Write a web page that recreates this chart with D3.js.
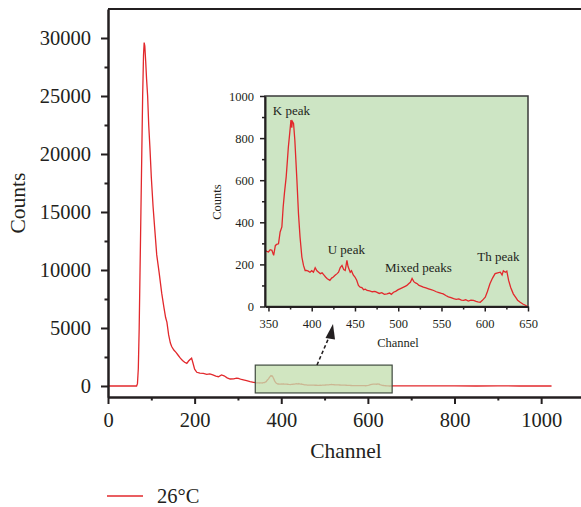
<!DOCTYPE html>
<html>
<head>
<meta charset="utf-8">
<title>Counts vs Channel, 26°C</title>
<style>
  body { margin: 0; background: #fff; }
  svg { display: block; font-family: "Liberation Serif", "DejaVu Serif", serif; }
  .axis text { fill: #231f20; font-family: "Liberation Serif", "DejaVu Serif", serif; }
  .axis path, .axis line { stroke: #231f20; }
</style>
</head>
<body>
<svg width="581" height="507"></svg>
<script src="https://d3js.org/d3.v7.min.js"></script>
<script>

// ---- data ----
// low channels (before the zoomed window)
var lowChannels = [0, 60, 66, 68, 70, 72, 74, 76, 78, 80, 82, 83.5, 85, 87, 89, 91.5, 94, 97, 100, 104,
  108, 112.5, 118, 124, 129, 133, 136, 140, 144, 147, 152, 157, 162, 167, 172, 177, 182, 186, 190, 193,
  196, 200, 205, 212, 220, 228, 235, 242, 249, 255, 262, 268, 275, 282, 290, 297, 301, 308, 315, 320,
  328, 336, 342];
var lowCounts = [0, 0, 0, 200, 1500, 5000, 10000, 15000, 20000, 25000, 28500, 29600, 29300, 28000, 26500, 25000, 22500, 20400, 18000, 15500,
  13500, 11300, 9800, 8000, 6800, 5900, 5500, 4400, 3700, 3400, 3100, 2900, 2650, 2400, 2200, 2050, 1950, 2150, 2300, 2400,
  2000, 1450, 1180, 1100, 1080, 1000, 1040, 950, 850, 800, 950, 880, 700, 600, 620, 680, 660, 560, 500, 460,
  380, 320, 280];

// zoomed window (K, U, mixed and Th peaks)
var peakChannels = [346, 348, 350, 352, 354, 356, 358, 360, 361.6, 363.5, 365.5, 367, 368.5, 370.5, 372, 373, 374.5, 376, 377, 377.6,
  379, 380.5, 381.7, 383, 384.7, 386.5, 388.6, 390.5, 392.4, 394, 396, 398, 400, 402, 404, 406, 408, 410, 412, 414,
  416, 418, 421, 423, 425, 427, 429, 431, 433, 435, 437, 438.7, 440.7, 442, 444.5, 446, 448, 450, 452, 454,
  456, 458, 460, 462, 464, 467, 470, 473, 475, 478, 481, 484, 487, 490, 492, 494.6, 497, 500, 502, 505,
  508, 510, 512, 514, 516, 518, 520, 522, 524, 527, 529, 532, 535, 538, 541, 544, 547, 550, 552, 555,
  558, 561, 564, 567, 570, 573, 575.5, 578, 581, 584, 587, 590, 592, 594.8, 597, 600.6, 603, 606, 609, 612,
  615, 618, 620, 621.5, 623.8, 625.5, 627.6, 630, 633, 636, 638, 641, 644, 647, 649, 650];
var peakCounts = [267, 262, 259, 270, 267, 243, 290, 296, 298, 354, 378, 473, 540, 616, 700, 758, 820, 886, 850, 880,
  870, 790, 695, 590, 441, 330, 235, 195, 171, 171, 168, 163, 170, 163, 184, 170, 163, 156, 160, 150,
  140, 132, 124, 135, 140, 148, 155, 163, 185, 195, 175, 171, 219, 190, 163, 170, 150, 140, 125, 100,
  92, 90, 80, 82, 76, 74, 70, 72, 68, 62, 66, 58, 60, 64, 58, 68, 72, 80, 84, 90,
  96, 100, 108, 115, 133, 118, 112, 108, 100, 96, 92, 88, 84, 80, 76, 70, 66, 62, 60, 52,
  46, 42, 37, 34, 36, 30, 29, 32, 26, 30, 29, 24, 22, 20, 28, 44, 70, 108, 135, 156,
  160, 163, 150, 170, 163, 168, 124, 90, 60, 42, 30, 20, 12, 6, 0, 0];

// high channels (flat tail)
var highChannels = [660, 700, 750, 800, 850, 900, 950, 1000, 1024];
var highCounts = [5, 15, 10, 5, 0, 5, 0, 0, 0];

var mainXTicks = [0, 200, 400, 600, 800, 1000];
var mainYTicks = [0, 5000, 10000, 15000, 20000, 25000, 30000];
var insetXTicks = [350, 400, 450, 500, 550, 600, 650];
var insetYTicks = [0, 200, 400, 600, 800, 1000];

var peakLabels = ["K peak", "U peak", "Mixed peaks", "Th peak"];
var peakLabelChannels = [355, 418.5, 484.7, 591.4];
var peakLabelCounts = [929, 273, 184, 237];

var seriesName = "26°C";
var zoomWindow = [340, 656];      // channels covered by the small box
var zoomWindowCounts = [-600, 1800];

// ---- build ----
function toPoints(xs, ys) { return xs.map(function(x, i) { return [x, ys[i]]; }); }
var peakData = toPoints(peakChannels, peakCounts);
var mainData = toPoints(lowChannels, lowCounts).concat(peakData, toPoints(highChannels, highCounts));

var svg = d3.select("svg");
var red = "#e2282c", ink = "#231f20", green = "#cde5c4";
var serif = '"Liberation Serif", "DejaVu Serif", serif';

var x = d3.scaleLinear().domain([0, 1092]).range([108, 581]);
var y = d3.scaleLinear().domain([-950, 32500]).range([397, 9]);

// top frame line
svg.append("line")
    .attr("x1", x.range()[0]).attr("x2", x.range()[1])
    .attr("y1", y.range()[1]).attr("y2", y.range()[1])
    .attr("stroke", ink).attr("stroke-width", 2);

var line = d3.line().x(function(d) { return x(d[0]); }).y(function(d) { return y(d[1]); });

svg.append("path")
    .datum(mainData)
    .attr("fill", "none")
    .attr("stroke", red)
    .attr("stroke-width", 1.3)
    .attr("d", line);

// minor ticks
svg.append("g").attr("class", "axis")
    .attr("transform", "translate(0," + y.range()[0] + ")")
    .call(d3.axisBottom(x).tickValues(d3.range(100, 1100, 200)).tickSize(3.5).tickFormat(""))
    .call(function(g) { g.select(".domain").remove(); g.selectAll("line").attr("stroke-width", 2); });
svg.append("g").attr("class", "axis")
    .attr("transform", "translate(" + x.range()[0] + ",0)")
    .call(d3.axisLeft(y).tickValues(d3.range(2500, 32500, 5000)).tickSize(3.5).tickFormat(""))
    .call(function(g) { g.select(".domain").remove(); g.selectAll("line").attr("stroke-width", 2); });

// major axes
svg.append("g").attr("class", "axis")
    .attr("transform", "translate(0," + y.range()[0] + ")")
    .call(d3.axisBottom(x).tickValues(mainXTicks).tickSize(7).tickSizeOuter(0).tickPadding(6).tickFormat(d3.format("d")))
    .call(function(g) {
      g.attr("font-family", serif);
      g.select(".domain").attr("stroke-width", 2.5);
      g.selectAll("line").attr("stroke-width", 2);
      g.selectAll("text").attr("font-size", 20.5).attr("dy", "0.82em");
    });
svg.append("g").attr("class", "axis")
    .attr("transform", "translate(" + x.range()[0] + ",0)")
    .call(d3.axisLeft(y).tickValues(mainYTicks).tickSize(7).tickSizeOuter(0).tickPadding(10).tickFormat(d3.format("d")))
    .call(function(g) {
      g.attr("font-family", serif);
      g.select(".domain").attr("stroke-width", 2.5);
      g.selectAll("line").attr("stroke-width", 2);
      g.selectAll("text").attr("font-size", 20.5);
    });

svg.append("text")
    .attr("x", 346).attr("y", 458)
    .attr("text-anchor", "middle").attr("font-size", 21.5).attr("fill", ink)
    .text("Channel");
svg.append("text")
    .attr("transform", "translate(25,203) rotate(-90)")
    .attr("text-anchor", "middle").attr("font-size", 21.5).attr("fill", ink)
    .text("Counts");

// small box over the zoomed region
svg.append("rect")
    .attr("x", x(zoomWindow[0])).attr("y", y(zoomWindowCounts[1]))
    .attr("width", x(zoomWindow[1]) - x(zoomWindow[0]))
    .attr("height", y(zoomWindowCounts[0]) - y(zoomWindowCounts[1]))
    .attr("fill", "#c4dfb0").attr("fill-opacity", 0.78)
    .attr("stroke", "#3f4a3f").attr("stroke-width", 1.2);

// dashed arrow
svg.append("line")
    .attr("x1", 317).attr("y1", 365).attr("x2", 329.5).attr("y2", 336)
    .attr("stroke", ink).attr("stroke-width", 1.6).attr("stroke-dasharray", "3.5,2.5");
svg.append("path")
    .attr("d", "M333,324L325.5,338L335,339.5Z")
    .attr("fill", ink);

// ---- inset ----
var ix = d3.scaleLinear().domain([346, 650]).range([265, 528]);
var iy = d3.scaleLinear().domain([0, 1000]).range([306.5, 96]);

svg.append("rect")
    .attr("x", ix.range()[0]).attr("y", iy.range()[1])
    .attr("width", ix.range()[1] - ix.range()[0])
    .attr("height", iy.range()[0] - iy.range()[1])
    .attr("fill", green)
    .attr("stroke", "#3a3a3a").attr("stroke-width", 1.5);

svg.append("path")
    .datum(peakData)
    .attr("fill", "none")
    .attr("stroke", red)
    .attr("stroke-width", 1.3)
    .attr("d", d3.line().x(function(d) { return ix(d[0]); }).y(function(d) { return iy(d[1]); }));

svg.append("g").attr("class", "axis")
    .attr("transform", "translate(0," + iy.range()[0] + ")")
    .call(d3.axisBottom(ix).tickValues(d3.range(375, 650, 50)).tickSize(3).tickFormat(""))
    .call(function(g) { g.select(".domain").remove(); g.selectAll("line").attr("stroke-width", 1.5); });
svg.append("g").attr("class", "axis")
    .attr("transform", "translate(" + ix.range()[0] + ",0)")
    .call(d3.axisLeft(iy).tickValues(d3.range(100, 1000, 200)).tickSize(3).tickFormat(""))
    .call(function(g) { g.select(".domain").remove(); g.selectAll("line").attr("stroke-width", 1.5); });

svg.append("g").attr("class", "axis")
    .attr("transform", "translate(0," + iy.range()[0] + ")")
    .call(d3.axisBottom(ix).tickValues(insetXTicks).tickSize(5).tickSizeOuter(0).tickPadding(6).tickFormat(d3.format("d")))
    .call(function(g) {
      g.attr("font-family", serif);
      g.select(".domain").attr("stroke-width", 2);
      g.selectAll("line").attr("stroke-width", 1.5);
      g.selectAll("text").attr("font-size", 12.5).attr("dy", "0.8em");
    });
svg.append("g").attr("class", "axis")
    .attr("transform", "translate(" + ix.range()[0] + ",0)")
    .call(d3.axisLeft(iy).tickValues(insetYTicks).tickSize(5).tickSizeOuter(0).tickPadding(6).tickFormat(d3.format("d")))
    .call(function(g) {
      g.attr("font-family", serif);
      g.select(".domain").attr("stroke-width", 2);
      g.selectAll("line").attr("stroke-width", 1.5);
      g.selectAll("text").attr("font-size", 12.5);
    });

svg.append("text")
    .attr("x", 398).attr("y", 347)
    .attr("text-anchor", "middle").attr("font-size", 12.5).attr("fill", ink)
    .text("Channel");
svg.append("text")
    .attr("transform", "translate(221,202) rotate(-90)")
    .attr("text-anchor", "middle").attr("font-size", 12.5).attr("fill", ink)
    .text("Counts");

svg.append("g")
    .attr("font-size", 13).attr("fill", ink)
  .selectAll("text")
  .data(peakLabels)
  .enter().append("text")
    .attr("x", function(d, i) { return ix(peakLabelChannels[i]); })
    .attr("y", function(d, i) { return iy(peakLabelCounts[i]); })
    .attr("dy", "0.35em")
    .text(function(d) { return d; });

// ---- legend ----
svg.append("line")
    .attr("x1", 107).attr("x2", 143).attr("y1", 496).attr("y2", 496)
    .attr("stroke", red).attr("stroke-width", 1.5);
svg.append("text")
    .attr("x", 157).attr("y", 496).attr("dy", "0.35em")
    .attr("font-size", 20.5).attr("fill", ink)
    .text(seriesName);

</script>
</body>
</html>
